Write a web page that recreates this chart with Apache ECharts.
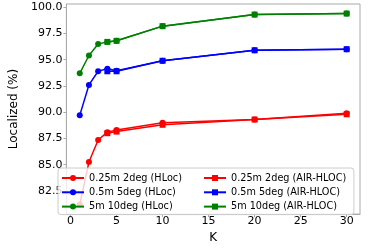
<!DOCTYPE html>
<html>
<head>
<meta charset="utf-8">
<script src="https://cdn.jsdelivr.net/npm/echarts@6/dist/echarts.min.js"></script>
<style>html,body{margin:0;padding:0;background:#fff}#c{width:374px;height:249px}</style>
</head>
<body>
<div id="c"></div>
<script>
// ---- data ----
const K_HLOC = [1, 2, 3, 4, 5, 10, 20, 30];
const K_AIR = [4, 5, 10, 20, 30];
const hloc_025_2 = [81.2, 85.25, 87.35, 88.1, 88.3, 89.0, 89.3, 89.9];
const hloc_05_5 = [89.7, 92.6, 93.9, 94.15, 93.95, 94.9, 95.9, 96.0];
const hloc_5_10 = [93.7, 95.4, 96.5, 96.7, 96.8, 98.2, 99.3, 99.4];
const air_025_2 = [88.0, 88.15, 88.8, 89.3, 89.8];
const air_05_5 = [93.9, 93.9, 94.9, 95.9, 96.0];
const air_5_10 = [96.7, 96.8, 98.2, 99.3, 99.4];
const xTicks = [0, 5, 10, 15, 20, 25, 30];
const yTicks = [82.5, 85.0, 87.5, 90.0, 92.5, 95.0, 97.5, 100.0];
const namesHLoc = ['0.25m 2deg (HLoc)', '0.5m 5deg (HLoc)', '5m 10deg (HLoc)'];
const namesAir = ['0.25m 2deg (AIR-HLOC)', '0.5m 5deg (AIR-HLOC)', '5m 10deg (AIR-HLOC)'];
const colors = ['#ff0000', '#0000ff', '#008000'];

const zip = (xs, ys) => xs.map((x, i) => [x, ys[i]]);
const FONT = 'DejaVu Sans';

function mk(name, xs, ys, color, symbol) {
  return {
    name, type: 'line', data: zip(xs, ys),
    symbol, symbolSize: 6, showSymbol: true,
    lineStyle: { color, width: 1.5 },
    itemStyle: { color, borderWidth: 0 },
    emphasis: { disabled: true }
  };
}

const series = [];
const hl = [hloc_025_2, hloc_05_5, hloc_5_10];
const ar = [air_025_2, air_05_5, air_5_10];
for (let i = 0; i < 3; i++) series.push(mk(namesHLoc[i], K_HLOC, hl[i], colors[i], 'circle'));
for (let i = 0; i < 3; i++) series.push(mk(namesAir[i], K_AIR, ar[i], colors[i], 'rect'));

const chart = echarts.init(document.getElementById('c'), null, { renderer: 'canvas' });
const legendCommon = {
  orient: 'vertical', itemWidth: 22, itemHeight: 7.5, itemGap: 4.3,
  textStyle: { fontFamily: FONT, fontSize: 9.7, color: '#000' },
  selectedMode: false
};
chart.setOption({
  animation: false,
  backgroundColor: '#fff',
  grid: { left: 53, right: 14, top: 4, bottom: 29, show: true, borderColor: '#aaa', borderWidth: 1 },
  xAxis: {
    type: 'value', min: -0.45, max: 31.45,
    name: 'K', nameLocation: 'middle', nameGap: 15,
    nameTextStyle: { fontFamily: FONT, fontSize: 12, color: '#000' },
    axisLine: { show: true, onZero: false, lineStyle: { color: '#aaa' } },
    axisTick: { show: true, length: 3, customValues: xTicks, lineStyle: { color: '#aaa' } },
    axisLabel: { customValues: xTicks, fontFamily: FONT, fontSize: 11, color: '#000', margin: 2 },
    splitLine: { show: false }
  },
  yAxis: {
    type: 'value', min: 80.29, max: 100.31,
    name: 'Localized (%)', nameLocation: 'middle', nameGap: 35,
    nameTextStyle: { fontFamily: FONT, fontSize: 12, color: '#000' },
    axisLine: { show: true, onZero: false, lineStyle: { color: '#aaa' } },
    axisTick: { show: true, length: 3, customValues: yTicks, lineStyle: { color: '#aaa' } },
    axisLabel: { customValues: yTicks, fontFamily: FONT, fontSize: 11, color: '#000', margin: 4,
      formatter: v => v.toFixed(1) },
    splitLine: { show: false }
  },
  legend: [
    Object.assign({}, legendCommon, {
      data: namesHLoc, left: 58, top: 168, padding: [5, 172, 3, 3],
      backgroundColor: 'rgba(255,255,255,0.8)', borderColor: '#cccccc', borderWidth: 1, borderRadius: 3, z: 4
    }),
    Object.assign({}, legendCommon, {
      data: namesAir, left: 203, top: 173, padding: 0, z: 5
    })
  ],
  series
});
</script>
</body>
</html>
